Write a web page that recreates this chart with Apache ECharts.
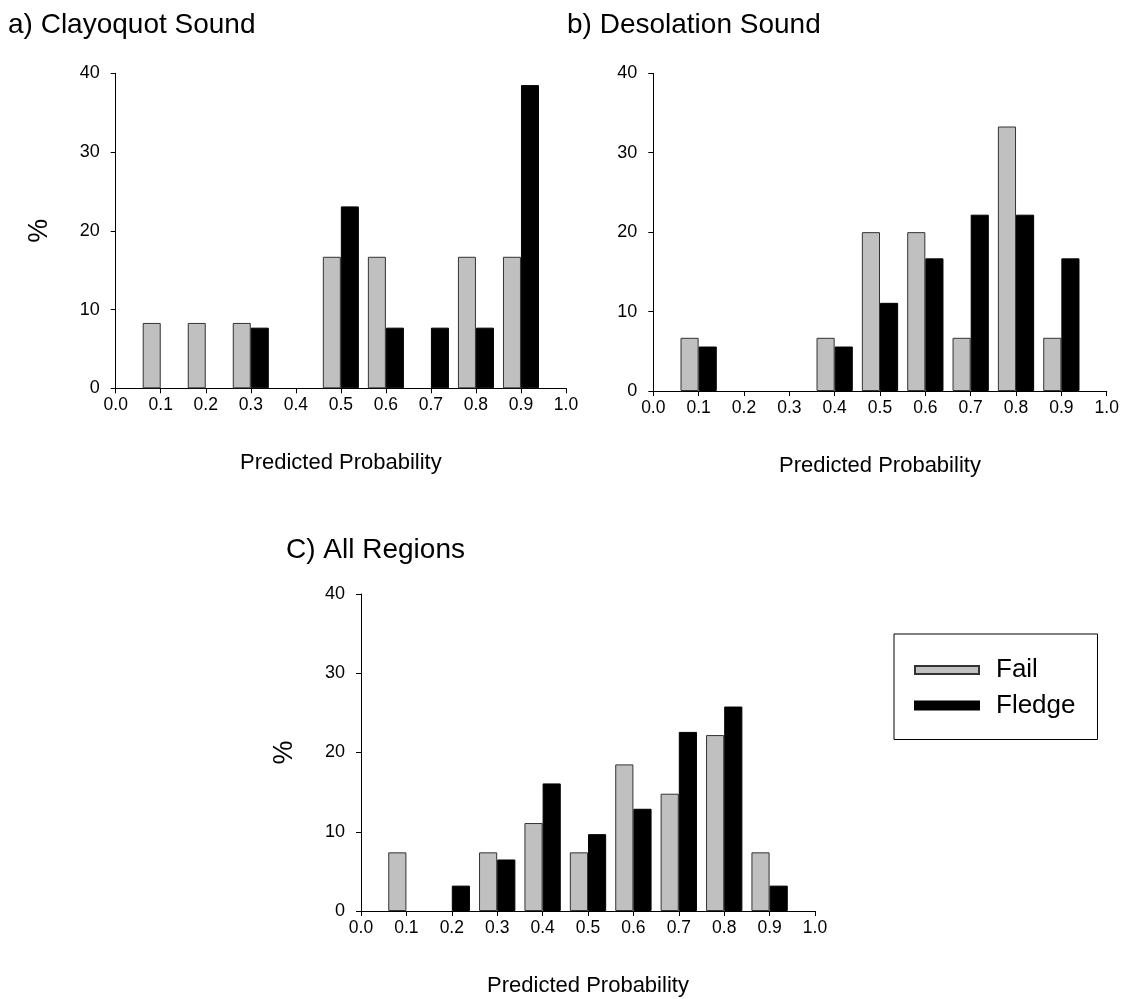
<!DOCTYPE html>
<html>
<head>
<meta charset="utf-8">
<script src="https://cdn.jsdelivr.net/npm/echarts@6/dist/echarts.min.js"></script>
<style>
html,body{margin:0;padding:0;background:#fff;}
#chart{width:1132px;height:999px;}
</style>
</head>
<body>
<div id="chart"></div>
<script>
// Bin centres (predicted probability)
const bins = [0.1, 0.2, 0.3, 0.4, 0.5, 0.6, 0.7, 0.8, 0.9];
const xTicks = [0.0, 0.1, 0.2, 0.3, 0.4, 0.5, 0.6, 0.7, 0.8, 0.9, 1.0];
const yTicks = [0, 10, 20, 30, 40];

// a) Clayoquot Sound
const clayFail   = [8.3, 8.3, 8.3, 0, 16.7, 16.7, 0, 16.7, 16.7];
const clayFledge = [0, 0, 7.7, 0, 23.1, 7.7, 7.7, 7.7, 38.5];
// b) Desolation Sound
const desoFail   = [6.7, 0, 0, 6.7, 20.0, 20.0, 6.7, 33.3, 6.7];
const desoFledge = [5.6, 0, 0, 5.6, 11.1, 16.7, 22.2, 22.2, 16.7];
// C) All Regions
const allFail    = [7.4, 0, 7.4, 11.1, 7.4, 18.5, 14.8, 22.2, 7.4];
const allFledge  = [0, 3.2, 6.5, 16.1, 9.7, 12.9, 22.6, 25.8, 3.2];

const titles = ['a) Clayoquot Sound', 'b) Desolation Sound', 'C) All Regions'];
const seriesNames = ['Fail', 'Fledge'];
const panels = [[clayFail, clayFledge], [desoFail, desoFledge], [allFail, allFledge]];

const FONT = "'Liberation Sans', Arial, Helvetica, sans-serif";
const grids = [
  {left: 115.7, top: 73.3, width: 450.3, height: 315},
  {left: 653.3, top: 73.3, width: 453.4, height: 317.7},
  {left: 361, top: 594, width: 454, height: 317}
];
const showPct = [true, false, true];

const xAxes = grids.map((g, i) => ({
  type: 'value', gridIndex: i, min: 0, max: 1, interval: 0.1,
  axisLine: {show: true, onZero: false, lineStyle: {color: '#000', width: 1}},
  axisTick: {show: true, inside: false, length: 5, lineStyle: {color: '#000'}},
  splitLine: {show: false},
  axisLabel: {color: '#000', fontSize: 17.5, fontFamily: FONT, margin: 8,
    formatter: v => v.toFixed(1), customValues: xTicks},
  name: 'Predicted Probability', nameLocation: 'middle', nameGap: 64,
  nameTextStyle: {color: '#000', fontSize: 22, fontFamily: FONT}
}));
const yAxes = grids.map((g, i) => ({
  type: 'value', gridIndex: i, min: 0, max: 40, interval: 10,
  axisLine: {show: true, onZero: false, lineStyle: {color: '#000', width: 1}},
  axisTick: {show: true, inside: false, length: 5, lineStyle: {color: '#000'}},
  splitLine: {show: false},
  axisLabel: {color: '#000', fontSize: 18, fontFamily: FONT, margin: 16, customValues: yTicks},
  name: showPct[i] ? '%' : '', nameLocation: 'middle', nameRotate: 90, nameGap: 63,
  nameTextStyle: {color: '#000', fontSize: 27, fontFamily: FONT}
}));

const series = [];
panels.forEach((p, i) => {
  const bw = 0.04 * grids[i].width;
  p.forEach((vals, k) => {
    series.push({
      type: 'bar', name: seriesNames[k], xAxisIndex: i, yAxisIndex: i,
      barWidth: bw, barGap: '0%',
      // empty bins (0 %) draw no bar
      data: bins.map((b, j) => [b, vals[j] > 0 ? vals[j] : '-']),
      itemStyle: k === 0
        ? {color: '#c0c0c0', borderColor: '#333', borderWidth: 1}
        : {color: '#000', borderColor: '#000', borderWidth: 1},
      emphasis: {disabled: true},
      animation: false
    });
  });
});

const titleStyle = {fontSize: 28, fontWeight: 'normal', color: '#000', fontFamily: FONT};
const chart = echarts.init(document.getElementById('chart'), null, {renderer: 'canvas'});
chart.setOption({
  backgroundColor: '#fff',
  animation: false,
  title: [
    {text: titles[0], left: 8, top: 11, padding: 0, textStyle: titleStyle},
    {text: titles[1], left: 567, top: 11, padding: 0, textStyle: titleStyle},
    {text: titles[2], left: 286, top: 536, padding: 0, textStyle: titleStyle}
  ],
  legend: {
    data: seriesNames, orient: 'vertical', left: 894, top: 634,
    padding: [23, 22, 21, 20], itemGap: 9.5, itemWidth: 64, itemHeight: 8,
    icon: 'rect', borderColor: '#000', borderWidth: 1,
    textStyle: {fontSize: 26, fontFamily: FONT, color: '#000', padding: [0, 0, 0, 12]}
  },
  grid: grids,
  xAxis: xAxes,
  yAxis: yAxes,
  series: series
});
</script>
</body>
</html>
